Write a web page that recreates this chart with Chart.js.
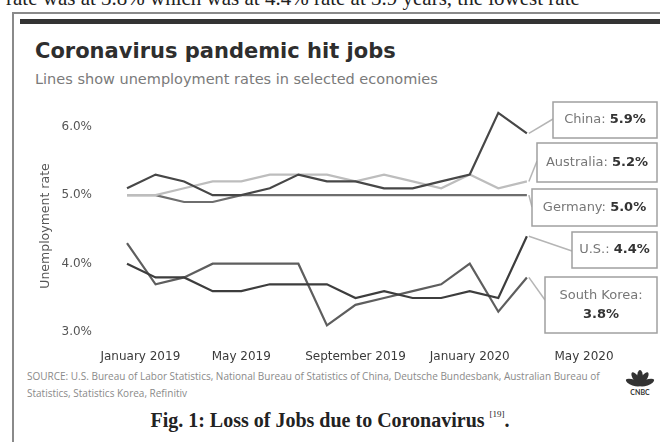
<!DOCTYPE html>
<html>
<head>
<meta charset="utf-8">
<script src="https://cdn.jsdelivr.net/npm/chart.js@4"></script>
<style>
  html, body { margin: 0; padding: 0; background: #fff; }
  body { width: 660px; height: 442px; position: relative; overflow: hidden; }
  .cut { position: absolute; left: 6px; top: -14px; font: 21px "Liberation Serif", serif; color: #222; white-space: nowrap; }
  .frame { position: absolute; left: 12px; top: 12px; width: 660px; height: 460px; border: 2px solid #8a8a8a; box-sizing: border-box; }
  .bar { position: absolute; left: 20px; top: 19px; width: 650px; height: 5px; background: #333; }
  .title { position: absolute; left: 35px; top: 39px; font: bold 21px "DejaVu Sans", sans-serif; color: #2e2e2e; }
  .sub { position: absolute; left: 35px; top: 71px; font: 14.5px "DejaVu Sans", sans-serif; color: #7a7a7a; }
  .source { position: absolute; left: 27px; top: 368px; font: 10px "Open Sans", sans-serif; line-height: 17px; color: #8a8a8a; white-space: nowrap; }
  .caption { position: absolute; left: 0; width: 660px; top: 409px; text-align: center; font: bold 20px "Liberation Serif", serif; color: #222; }
  .caption sup { font-size: 9px; font-weight: normal; vertical-align: 10px; }
  .logo { position: absolute; left: 622px; top: 364px; }
  canvas { position: absolute; left: 0; top: 0; }
</style>
</head>
<body>
<div class="cut">rate was at 3.8% which was at 4.4% rate at 3.9 years, the lowest rate</div>
<div class="frame"></div>
<div class="bar"></div>
<div class="title">Coronavirus pandemic hit jobs</div>
<div class="sub">Lines show unemployment rates in selected economies</div>
<div class="source">SOURCE: U.S. Bureau of Labor Statistics, National Bureau of Statistics of China, Deutsche Bundesbank, Australian Bureau of<br>Statistics, Statistics Korea, Refinitiv</div>
<svg class="logo" width="36" height="32" viewBox="0 0 36 32">
  <g fill="#333">
    <ellipse cx="18" cy="14" rx="3" ry="8"/>
    <ellipse cx="18" cy="14" rx="3" ry="8" transform="rotate(-35 18 20)"/>
    <ellipse cx="18" cy="14" rx="3" ry="8" transform="rotate(35 18 20)"/>
    <ellipse cx="18" cy="14" rx="3" ry="8" transform="rotate(-70 18 21)"/>
    <ellipse cx="18" cy="14" rx="3" ry="8" transform="rotate(70 18 21)"/>
  </g>
  <text x="18" y="31" text-anchor="middle" font-family="Lato" font-weight="bold" font-size="7" fill="#333">CNBC</text>
</svg>
<div class="caption">Fig. 1: Loss of Jobs due to Coronavirus <sup>[19]</sup>.</div>
<canvas id="chart" width="660" height="442"></canvas>

<script>
const months = [
  "January 2019", "February 2019", "March 2019", "April 2019", "May 2019", "June 2019",
  "July 2019", "August 2019", "September 2019", "October 2019", "November 2019", "December 2019",
  "January 2020", "February 2020", "March 2020", "April 2020", "May 2020"
];
const china      = [5.1, 5.3, 5.2, 5.0, 5.0, 5.1, 5.3, 5.2, 5.2, 5.1, 5.1, 5.2, 5.3, 6.2, 5.9];
const australia  = [5.0, 5.0, 5.1, 5.2, 5.2, 5.3, 5.3, 5.3, 5.2, 5.3, 5.2, 5.1, 5.3, 5.1, 5.2];
const germany    = [5.0, 5.0, 4.9, 4.9, 5.0, 5.0, 5.0, 5.0, 5.0, 5.0, 5.0, 5.0, 5.0, 5.0, 5.0];
const us         = [4.0, 3.8, 3.8, 3.6, 3.6, 3.7, 3.7, 3.7, 3.5, 3.6, 3.5, 3.5, 3.6, 3.5, 4.4];
const southKorea = [4.3, 3.7, 3.8, 4.0, 4.0, 4.0, 4.0, 3.1, 3.4, 3.5, 3.6, 3.7, 4.0, 3.3, 3.8];
const yTicks = [3, 4, 5, 6];

const chartFont = "DejaVu Sans";

// callout boxes on the right, each tied to the last point of a series
const callouts = [
  { ds: 0, name: "China: ",      box: [553, 102, 104, 36], anchor: [553, 119] },
  { ds: 1, name: "Australia: ",  box: [537, 143, 120, 39], anchor: [537, 161] },
  { ds: 2, name: "Germany: ",    box: [532, 189, 125, 37], anchor: [532, 207] },
  { ds: 3, name: "U.S.: ",       box: [572, 232,  85, 36], anchor: [572, 251] },
  { ds: 4, name: "South Korea:", box: [545, 277, 112, 56], anchor: [545, 300], twoLines: true }
];

const calloutPlugin = {
  id: "callouts",
  afterDatasetsDraw(chart) {
    const ctx = chart.ctx;
    ctx.save();
    callouts.forEach(c => {
      const meta = chart.getDatasetMeta(c.ds);
      const values = chart.data.datasets[c.ds].data;
      const last = values.length - 1;
      const pt = meta.data[last];
      const valueText = values[last].toFixed(1) + "%";

      ctx.strokeStyle = "#b5b5b5";
      ctx.lineWidth = 1.5;
      ctx.beginPath();
      ctx.moveTo(pt.x + 2, pt.y);
      ctx.lineTo(c.anchor[0], c.anchor[1]);
      ctx.stroke();

      const [x, y, w, h] = c.box;
      ctx.fillStyle = "#fff";
      ctx.fillRect(x, y, w, h);
      ctx.strokeStyle = "#a0a0a0";
      ctx.lineWidth = 1.5;
      ctx.strokeRect(x, y, w, h);

      ctx.textBaseline = "middle";
      const nameFont = "13px '" + chartFont + "'";
      const valFont = "bold 13px '" + chartFont + "'";
      if (c.twoLines) {
        ctx.textAlign = "center";
        ctx.font = nameFont;
        ctx.fillStyle = "#777";
        ctx.fillText(c.name, x + w / 2, y + h / 2 - 9);
        ctx.font = valFont;
        ctx.fillStyle = "#333";
        ctx.fillText(valueText, x + w / 2, y + h / 2 + 10);
      } else {
        ctx.font = nameFont;
        const nw = ctx.measureText(c.name).width;
        ctx.font = valFont;
        const vw = ctx.measureText(valueText).width;
        const tx = x + (w - nw - vw) / 2;
        ctx.textAlign = "left";
        ctx.font = nameFont;
        ctx.fillStyle = "#777";
        ctx.fillText(c.name, tx, y + h / 2);
        ctx.font = valFont;
        ctx.fillStyle = "#333";
        ctx.fillText(valueText, tx + nw, y + h / 2);
      }
    });
    ctx.restore();
  }
};

function series(data, color) {
  return {
    data,
    borderColor: color,
    borderWidth: 2.2,
    pointRadius: 0,
    tension: 0,
    fill: false
  };
}

new Chart(document.getElementById("chart"), {
  type: "line",
  data: {
    labels: months,
    datasets: [
      series(china, "#474747"),
      series(australia, "#bdbdbd"),
      series(germany, "#6e6e6e"),
      series(us, "#3d3d3d"),
      series(southKorea, "#5e5e5e")
    ]
  },
  options: {
    responsive: false,
    animation: false,
    layout: { padding: { left: 38, top: 106, right: 76, bottom: 69 } },
    plugins: { legend: { display: false }, tooltip: { enabled: false } },
    scales: {
      x: {
        grid: { display: false, drawTicks: false },
        border: { display: false },
        afterFit: s => { s.height = 27; },
        ticks: {
          autoSkip: false,
          maxRotation: 0,
          padding: 4,
          color: "#3a3a3a",
          font: { family: chartFont, size: 12 },
          // every fourth month; the first label is nudged right, clear of the y labels
          callback: function (v, i) {
            if (i % 4 !== 0) return "";
            return i === 0 ? "       " + months[i] : months[i];
          }
        }
      },
      y: {
        min: 2.8,
        max: 6.3,
        grid: { display: false, drawTicks: false },
        border: { display: false },
        afterFit: s => { s.width = 89; },
        afterBuildTicks: s => { s.ticks = yTicks.map(v => ({ value: v })); },
        title: { display: true, text: "Unemployment rate", color: "#555", font: { family: chartFont, size: 12.5 }, padding: 0 },
        ticks: {
          padding: 35,
          color: "#555",
          font: { family: chartFont, size: 12 },
          callback: v => v.toFixed(1) + "%"
        }
      }
    }
  },
  plugins: [calloutPlugin]
});
</script>
</body>
</html>
